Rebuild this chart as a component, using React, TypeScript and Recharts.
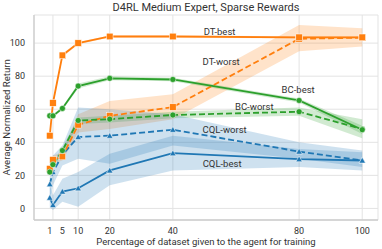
import React from 'react';
import {
  ComposedChart,
  Line,
  Area,
  XAxis,
  YAxis,
  CartesianGrid,
  ReferenceDot,
} from 'recharts';

const pct = [1, 2, 5, 10, 20, 40, 80, 100];

const dtBest = [44, 63.8, 92.6, 100, 104, 104, 103.5, 103.5];
const dtBestLo = [42.5, 62, 91.5, 99.3, 103.4, 103.4, 102.8, 102.8];
const dtBestHi = [45.5, 65.5, 93.7, 100.7, 104.6, 104.6, 104.2, 104.2];
const dtWorst = [24, 29.4, 31.4, 50.6, 56, 61.3, 102.6, 103.3];
const dtWorstLo = [22, 27, 29, 46, 48, 54, 95, 98];
const dtWorstHi = [26, 32, 34, 57, 65, 69, 111, 109];

const bcBest = [56, 56, 60.5, 74, 78.7, 78, 65.3, 47.6];
const bcBestLo = [55, 55, 59.5, 72.5, 77.5, 77, 64, 45];
const bcBestHi = [57, 57, 61.5, 75.5, 80, 79, 66.5, 50];
const bcWorst = [22, 26.5, 35, 53.2, 54, 56.5, 58.5, 48];
const bcWorstLo = [20.5, 25, 33, 51, 52, 54.5, 56, 42.5];
const bcWorstHi = [23.5, 28, 37, 55, 56, 58.5, 61, 54];

const cqlWorst = [14.7, 22, 32.4, 43.2, 44, 47.6, 34.4, 29];
const cqlWorstLo = [5, 14, 26, 30, 27, 38, 30, 25];
const cqlWorstHi = [28, 32, 38, 61, 60, 57, 40, 35];
const cqlBest = [6.5, 2.1, 10.2, 12.2, 23, 33.4, 29.8, 29];
const cqlBestLo = [1, -1, 4, 1, 14, 23, 25, 23];
const cqlBestHi = [14, 8, 18, 22, 33, 44, 36, 34];

const xTicks = [1, 5, 10, 20, 40, 80, 100];
const xGrid = [1, 2, 10, 20, 40, 80, 100];
const yTicks = [0, 20, 40, 60, 80, 100];

// where the series names sit, in data units
const labelNames = ['DT-best', 'DT-worst', 'BC-best', 'BC-worst', 'CQL-worst', 'CQL-best'];
const labelX = [54.8, 55.3, 79.7, 65.8, 56.4, 55.6];
const labelY = [107, 88.8, 71.8, 61.5, 47.5, 27];

const ORANGE = '#ff7f0e';
const GREEN = '#2ca02c';
const BLUE = '#1f77b4';
const FONT = 'Roboto, "DejaVu Sans", sans-serif';

const data = pct.map((p, i) => ({
  pct: p,
  dtBest: dtBest[i],
  dtBestBand: [dtBestLo[i], dtBestHi[i]],
  dtWorst: dtWorst[i],
  dtWorstBand: [dtWorstLo[i], dtWorstHi[i]],
  bcBest: bcBest[i],
  bcBestBand: [bcBestLo[i], bcBestHi[i]],
  bcWorst: bcWorst[i],
  bcWorstBand: [bcWorstLo[i], bcWorstHi[i]],
  cqlWorst: cqlWorst[i],
  cqlWorstBand: [cqlWorstLo[i], cqlWorstHi[i]],
  cqlBest: cqlBest[i],
  cqlBestBand: [cqlBestLo[i], cqlBestHi[i]],
}));

const Square = (color: string) => (props: any) => {
  const { cx, cy } = props;
  if (cx == null || cy == null) return null;
  return <rect x={cx - 3.3} y={cy - 3.3} width={6.6} height={6.6} fill={color} stroke="#fff" strokeWidth={0.5} />;
};

const Circle = (color: string) => (props: any) => {
  const { cx, cy } = props;
  if (cx == null || cy == null) return null;
  return <circle cx={cx} cy={cy} r={3} fill={color} stroke="#fff" strokeWidth={0.5} />;
};

const Triangle = (color: string) => (props: any) => {
  const { cx, cy } = props;
  if (cx == null || cy == null) return null;
  const s = 3.2;
  return (
    <polygon
      points={`${cx},${cy - s} ${cx - s},${cy + s * 0.8} ${cx + s},${cy + s * 0.8}`}
      fill={color}
      stroke="#fff"
      strokeWidth={0.5}
    />
  );
};

const bands = [
  { key: 'dtBestBand', color: ORANGE },
  { key: 'dtWorstBand', color: ORANGE },
  { key: 'bcBestBand', color: GREEN },
  { key: 'bcWorstBand', color: GREEN },
  { key: 'cqlWorstBand', color: BLUE },
  { key: 'cqlBestBand', color: BLUE },
];

export default function App() {
  return (
    <div style={{ position: 'absolute', left: 0, top: 0, width: 382, height: 249, background: '#fff' }}>
      <div
        style={{
          position: 'absolute',
          top: 1,
          left: 34,
          width: 344,
          textAlign: 'center',
          fontFamily: FONT,
          fontSize: 11,
          color: '#333',
        }}
      >
        D4RL Medium Expert, Sparse Rewards
      </div>
      <ComposedChart
        width={382}
        height={249}
        data={data}
        margin={{ top: 15, right: 4, bottom: 0, left: 0 }}
      >
        <CartesianGrid xAxisId="grid" stroke="#e3e3e3" strokeWidth={1} />
        <XAxis
          xAxisId="grid"
          dataKey="pct"
          type="number"
          domain={[-4, 105]}
          ticks={xGrid}
          height={0}
          hide
        />
        <XAxis
          dataKey="pct"
          type="number"
          domain={[-4, 105]}
          ticks={xTicks}
          interval={0}
          height={29}
          tickLine={false}
          axisLine={{ stroke: '#cccccc', strokeWidth: 1.3 }}
          tick={{ fill: '#333', fontSize: 9, fontFamily: FONT }}
          tickMargin={2}
          label={{
            value: 'Percentage of dataset given to the agent for training',
            position: 'insideBottom',
            offset: 4,
            fill: '#333',
            fontSize: 9.5,
            fontFamily: FONT,
          }}
        />
        <YAxis
          type="number"
          domain={[-7, 117]}
          ticks={yTicks}
          width={34}
          tickLine={false}
          axisLine={{ stroke: '#cccccc', strokeWidth: 1.3 }}
          tick={{ fill: '#333', fontSize: 9, fontFamily: FONT }}
          tickMargin={3}
          label={{
            value: 'Average Normalized Return',
            angle: -90,
            position: 'insideLeft',
            dx: 2,
            dy: 58,
            fill: '#333',
            fontSize: 9.6,
            fontFamily: FONT,
          }}
        />
        {bands.map((b) => (
          <Area
            key={b.key}
            dataKey={b.key}
            type="linear"
            stroke="none"
            fill={b.color}
            fillOpacity={0.22}
            isAnimationActive={false}
            activeDot={false}
          />
        ))}
        <Line dataKey="cqlBest" stroke={BLUE} strokeWidth={1.8} dot={Triangle(BLUE)} isAnimationActive={false} />
        <Line dataKey="cqlWorst" stroke={BLUE} strokeWidth={1.8} strokeDasharray="6 3" dot={Triangle(BLUE)} isAnimationActive={false} />
        <Line dataKey="dtWorst" stroke={ORANGE} strokeWidth={1.8} strokeDasharray="6 3" dot={Square(ORANGE)} isAnimationActive={false} />
        <Line dataKey="bcWorst" stroke={GREEN} strokeWidth={1.8} strokeDasharray="6 3" dot={Circle(GREEN)} isAnimationActive={false} />
        <Line dataKey="bcBest" stroke={GREEN} strokeWidth={1.8} dot={Circle(GREEN)} isAnimationActive={false} />
        <Line dataKey="dtBest" stroke={ORANGE} strokeWidth={1.8} dot={Square(ORANGE)} isAnimationActive={false} />
        {labelNames.map((name, i) => (
          <ReferenceDot
            key={name}
            x={labelX[i]}
            y={labelY[i]}
            r={0}
            fill="none"
            stroke="none"
            label={{ value: name, position: 'center', fill: '#333', fontSize: 9.5, fontFamily: FONT }}
          />
        ))}
      </ComposedChart>
    </div>
  );
}
